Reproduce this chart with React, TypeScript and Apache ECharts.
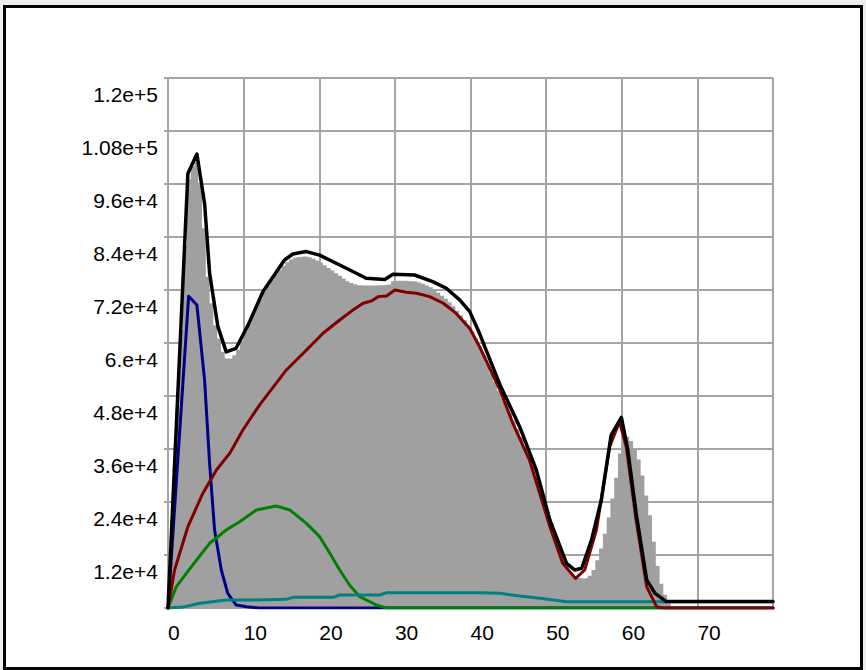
import React, { useEffect, useRef } from "react";
import * as echarts from "echarts";

// ---- axes ----
const X_MIN = 0;
const X_MAX = 80;
const X_INTERVAL = 10;
const Y_MIN = 0;
const Y_MAX = 120000;
const Y_INTERVAL = 12000;
const Y_TICK_LABELS = ["", "1.2e+4", "2.4e+4", "3.6e+4", "4.8e+4", "6.e+4", "7.2e+4", "8.4e+4", "9.6e+4", "1.08e+5", "1.2e+5"];

// ---- histogram (gray), bins of 0.5 starting at 0, values in thousands ----
const HIST_BIN = 0.5;
const HIST_VALUES = [
  8, 25, 45, 63, 82, 97, 100,
  101, 96, 86, 75, 69, 64, 61,
  58, 56.5, 56.5, 57.2, 58.5, 60.5, 62.5,
  64.5, 66.5, 68.3, 70, 71.6, 73, 74.3,
  75.5, 76.6, 77.5, 78.3, 78.9, 79.3, 79.5,
  79.6, 79.6, 79.4, 79.1, 78.7, 78.2, 77.6,
  77.0, 76.4, 75.8, 75.2, 74.6, 74.0, 73.6,
  73.3, 73.1, 73.0, 73.0, 73.0, 73.0, 73.1,
  73.1, 73.2, 73.3, 74.0, 74.1, 74.1, 74.1,
  74.0, 74.0, 73.9, 73.7, 73.4, 73.0, 72.6,
  72.1, 71.4, 70.7, 70.0, 69.2, 68.3, 67.3,
  66.3, 65.2, 64.0, 62.6, 61.0, 59.2, 57.3,
  55.3, 53.2, 51.2, 49.2, 47.5, 45.8, 44.1,
  42.4, 40.6, 38.7, 36.6, 34.4, 32.0, 29.6,
  27.0, 24.4, 21.8, 19.2, 16.6, 14.0, 11.6,
  9.6, 8.1, 7.2, 6.8, 6.7, 6.8, 7.3,
  8.6, 10.8, 13.5, 16.8, 20.5, 24.8, 29.5,
  35.0, 38.5, 38.8, 37.8, 36.0, 33.6, 30.0,
  25.5, 21.0, 15.0, 9.5, 5.5, 3.0, 1.0,
];

// ---- fitted curves: [x, value in thousands] ----
const TOTAL = [
  [0, 0], [2.63, 98.4], [3.82, 102.8], [4.84, 91.6], [5.5, 75.8], [6.6, 63.7], [7.7, 58.0], [9.0, 58.8],
  [10.6, 64.1], [12.55, 71.6], [13.9, 75.0], [15.4, 78.8], [16.5, 80.15], [18.3, 80.7], [20.05, 79.9],
  [22.7, 77.65], [24.9, 75.8], [26.2, 74.65], [28.65, 74.4], [29.75, 75.55], [32.6, 75.4], [35.0, 73.9],
  [36.8, 72.4], [38.6, 69.7], [39.9, 67.1], [41.0, 62.95], [43.9, 50.5], [46.5, 41.05], [48.7, 31.25],
  [50.5, 19.9], [52.7, 10.1], [53.8, 8.6], [54.7, 9.0], [56.0, 15.4], [57.3, 24.45], [58.6, 39.15],
  [59.95, 43.15], [60.8, 35.8], [61.9, 21.45], [63.3, 6.35], [64.4, 3.3], [65.9, 1.45], [80, 1.45],
];
const BLUE = [
  [0, 0], [2.73, 70.6], [3.82, 68.6], [4.84, 51.6], [5.5, 32.75], [6.16, 17.65], [7.05, 8.6], [7.9, 3.3],
  [9.0, 0.7], [10.4, 0.3], [12, 0], [80, 0],
];
const RED = [
  [0, 0], [0.87, 8.6], [2.63, 18.4], [4.6, 25.95], [6.4, 31.25], [8.15, 35.0], [9.9, 40.3], [12.1, 45.95],
  [15.65, 53.9], [18.3, 58.4], [20.5, 62.2], [22.7, 65.2], [24.45, 67.45], [25.8, 69.0], [26.9, 69.5],
  [27.8, 70.5], [28.9, 70.65], [30.0, 72.0], [31.5, 71.5], [32.85, 71.25], [34.6, 70.5], [36.4, 69.0],
  [38.1, 66.7], [39.9, 63.3], [41.2, 59.15], [43.9, 49.35], [45.6, 41.8], [47.8, 33.5], [50.5, 18.4],
  [52.2, 10.1], [53.9, 6.7], [55.1, 8.6], [56.65, 17.65], [58.4, 36.5], [59.7, 42.2], [60.6, 36.5],
  [61.9, 19.9], [63.3, 4.8], [64.6, 0.3], [65.5, 0], [80, 0],
];
const GREEN = [
  [0, 0], [1.1, 4.83], [3.1, 9.35], [5.5, 14.65], [7.7, 17.65], [9.47, 19.54], [11.7, 22.2], [14.3, 23.1],
  [16.1, 22.2], [18.3, 19.17], [20.05, 16.15], [21.4, 12.38], [22.7, 8.6], [24.0, 5.2], [25.35, 2.56],
  [27.55, 0.68], [28.9, 0], [80, 0],
];
const TEAL = [
  [0, 0], [2.0, 0.2], [4.2, 1.06], [7.7, 1.8], [11.2, 1.8], [15.65, 1.96], [16.5, 2.42], [21.8, 2.42],
  [22.7, 2.94], [28.0, 2.94], [28.9, 3.47], [41.2, 3.47], [43.9, 3.33], [46.5, 2.72], [49.2, 2.2],
  [52.7, 1.43], [80, 1.43],
];
const UNIT = 1000;

const GRID_COLOR = "#a4a4a4";
const FONT = "'Liberation Sans', Arial, sans-serif";

function scale(pts: number[][]) {
  return pts.map(([x, v]) => [x, v * UNIT]);
}

export default function App() {
  const ref = useRef<HTMLDivElement>(null);
  useEffect(() => {
    if (!ref.current) return;
    const chart = echarts.init(ref.current, null, { renderer: "svg" });
    const histPts = [[0, 0], ...HIST_VALUES.map((v, i) => [(i + 1) * HIST_BIN, v * UNIT])];
    const lineSeries = (name: string, data: number[][], color: string, z: number, width: number) => ({
      type: "line",
      name,
      data: scale(data),
      showSymbol: false,
      symbol: "none",
      z,
      lineStyle: { color, width, join: "round", cap: "round" },
      silent: true,
    });
    chart.setOption({
      animation: false,
      backgroundColor: "transparent",
      grid: { left: 168, top: 78, width: 605, height: 530, containLabel: false },
      xAxis: {
        type: "value",
        min: X_MIN,
        max: X_MAX,
        interval: X_INTERVAL,
        axisLine: { show: true, lineStyle: { color: GRID_COLOR, width: 2 } },
        axisTick: { show: false },
        splitLine: { show: true, lineStyle: { color: GRID_COLOR, width: 2 } },
        axisLabel: {
          align: "left",
          margin: 14,
          fontSize: 21,
          fontFamily: FONT,
          color: "#000",
          formatter: (v: number) => (v === X_MAX ? "" : String(v)),
        },
      },
      yAxis: {
        type: "value",
        min: Y_MIN,
        max: Y_MAX,
        interval: Y_INTERVAL,
        axisLine: { show: true, lineStyle: { color: GRID_COLOR, width: 2 } },
        axisTick: { show: true, length: 4, lineStyle: { color: GRID_COLOR, width: 2 } },
        splitLine: { show: true, lineStyle: { color: GRID_COLOR, width: 2 } },
        axisLabel: {
          margin: 10,
          fontSize: 21,
          fontFamily: FONT,
          color: "#000",
          verticalAlign: "top",
          padding: [6, 0, 0, 0],
          formatter: (v: number) => Y_TICK_LABELS[Math.round(v / Y_INTERVAL)] ?? "",
        },
      },
      series: [
        {
          type: "line",
          name: "histogram",
          data: histPts,
          step: "start",
          showSymbol: false,
          symbol: "none",
          z: 1,
          lineStyle: { width: 0, color: "#a0a0a0" },
          areaStyle: { color: "#a0a0a0", opacity: 1 },
          silent: true,
        },
        lineSeries("blue", BLUE, "#00008b", 2, 3),
        lineSeries("green", GREEN, "#008000", 3, 3),
        lineSeries("teal", TEAL, "#008080", 4, 3),
        lineSeries("red", RED, "#800000", 5, 3),
        lineSeries("total", TOTAL, "#000000", 6, 3.5),
      ],
    });
    return () => chart.dispose();
  }, []);

  return (
    <div style={{ position: "fixed", left: 0, top: 0, width: 866, height: 670, background: "#eeeeee" }}>
      <div
        style={{
          position: "absolute",
          left: 3,
          top: 5,
          width: 860,
          height: 665,
          border: "3px solid #000",
          boxSizing: "border-box",
          background: "#fff",
        }}
      />
      <div ref={ref} style={{ position: "absolute", left: 0, top: 0, width: 866, height: 670 }} />
    </div>
  );
}
